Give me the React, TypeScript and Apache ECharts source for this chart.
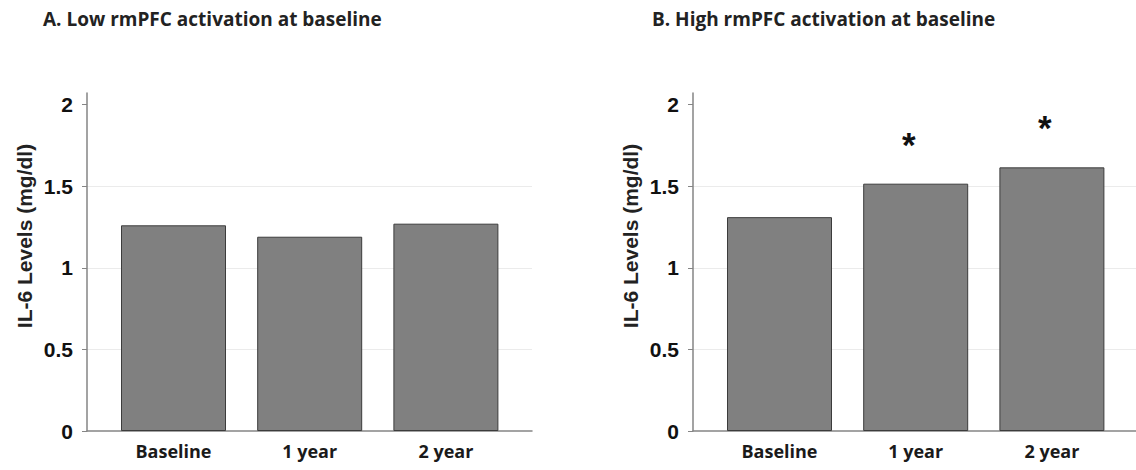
import React, { useEffect, useRef } from "react";
import * as echarts from "echarts";

const categories = ["Baseline", "1 year", "2 year"];
const lowValues = [1.26, 1.19, 1.27];
const highValues = [1.31, 1.515, 1.615];
const lowSig = ["", "", ""];
const highSig = ["", "*", "*"];
const yTicks = { min: 0, max: 2, interval: 0.5 };
const titles = ["A. Low rmPFC activation at baseline", "B. High rmPFC activation at baseline"];
const yName = "IL-6 Levels (mg/dl)";

const AXIS_COLOR = "#858585";
const NARROW = "'Liberation Sans Narrow', 'Arial Narrow', 'Liberation Sans', Arial, sans-serif";
const CAL = "'Open Sans', Lato, sans-serif";

type Panel = { axisX: number; xEnd: number; catLeft: number; catRight: number; values: number[]; sig: string[]; titleX: number; nameX: number };

const panels: Panel[] = [
  { axisX: 87, xEnd: 532, catLeft: 105.4, catRight: 514, values: lowValues, sig: lowSig, titleX: 43, nameX: 24 },
  { axisX: 693, xEnd: 1136, catLeft: 711.4, catRight: 1120, values: highValues, sig: highSig, titleX: 652, nameX: 630 },
];

const Y0 = 431;
const Y2 = 104.5;
const YTOP = 93;
const NAME_Y = 236;

export default function App() {
  const ref = useRef<HTMLDivElement>(null);
  useEffect(() => {
    if (!ref.current) return;
    const chart = echarts.init(ref.current, undefined, { renderer: "svg" });
    const grid: any[] = [];
    const xAxis: any[] = [];
    const yAxis: any[] = [];
    const series: any[] = [];
    panels.forEach((p, i) => {
      const base = i * 3;
      grid.push({ left: p.axisX, width: p.xEnd - p.axisX, top: YTOP, height: Y0 - YTOP, containLabel: false });
      grid.push({ left: p.axisX, width: p.xEnd - p.axisX, top: Y2, height: Y0 - Y2, containLabel: false });
      grid.push({ left: p.catLeft, width: p.catRight - p.catLeft, top: Y2, height: Y0 - Y2, containLabel: false });

      xAxis.push({
        gridIndex: base, type: "value", min: 0, max: 1,
        axisLine: { show: true, lineStyle: { color: AXIS_COLOR, width: 1.5 } },
        axisTick: { show: false }, axisLabel: { show: false }, splitLine: { show: false },
      });
      xAxis.push({ gridIndex: base + 1, type: "value", min: 0, max: 1, show: false });
      xAxis.push({
        gridIndex: base + 2, type: "category", data: categories,
        axisLine: { show: false }, axisTick: { show: false },
        axisLabel: { show: true, fontFamily: CAL, fontWeight: "bold", fontSize: 18, color: "#1a1a1a", margin: 11 },
      });

      yAxis.push({
        gridIndex: base, type: "value", min: 0, max: (Y0 - YTOP) / (Y0 - Y2) * yTicks.max,
        axisLine: { show: true, lineStyle: { color: AXIS_COLOR, width: 1.5 } },
        axisTick: { show: false }, axisLabel: { show: false }, splitLine: { show: false },
      });
      yAxis.push({
        gridIndex: base + 1, type: "value", min: yTicks.min, max: yTicks.max, interval: yTicks.interval,
        axisLine: { show: false },
        axisTick: { show: true, length: 5, lineStyle: { color: AXIS_COLOR, width: 1 } },
        axisLabel: { show: true, fontFamily: NARROW, fontWeight: "bold", fontSize: 21, color: "#111", margin: 14 },
        splitLine: { show: true, showMinLine: false, showMaxLine: false, lineStyle: { color: "#ebebeb", width: 1 } },
      });
      yAxis.push({ gridIndex: base + 2, type: "value", min: yTicks.min, max: yTicks.max, show: false });

      series.push({
        type: "bar", xAxisIndex: base + 2, yAxisIndex: base + 2,
        data: p.values, barWidth: 105,
        itemStyle: { color: "#808080", borderColor: "#3c3c3c", borderWidth: 1 },
        label: {
          show: true, position: "top", distance: 22,
          formatter: (pr: any) => p.sig[pr.dataIndex],
          fontFamily: "'Liberation Sans', Arial, sans-serif", fontWeight: "bold", fontSize: 35, color: "#111",
          offset: [-7, 0],
        },
      });
    });

    chart.setOption({
      animation: false,
      backgroundColor: "#ffffff",
      title: panels.map((p, i) => ({
        text: titles[i], left: p.titleX, top: 9, padding: 0,
        textStyle: { fontFamily: CAL, fontWeight: "bold", fontSize: 19, color: "#222" },
      })),
      graphic: panels.map((p) => ({
        type: "text", x: p.nameX, y: NAME_Y, rotation: Math.PI / 2,
        style: {
          text: yName, textAlign: "center", textVerticalAlign: "middle",
          font: "bold 21px " + NARROW, fill: "#222",
        },
      })),
      grid, xAxis, yAxis, series,
    });
    return () => chart.dispose();
  }, []);
  return <div ref={ref} style={{ position: "fixed", left: 0, top: 0, width: 1136, height: 470 }} />;
}
